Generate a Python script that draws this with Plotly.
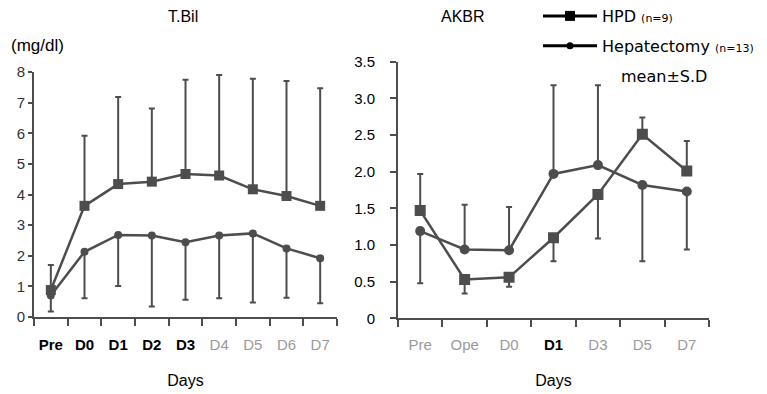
import plotly.graph_objects as go

# ---- data ----
tbil_days = ["Pre", "D0", "D1", "D2", "D3", "D4", "D5", "D6", "D7"]
tbil_hpd = [0.88, 3.63, 4.34, 4.42, 4.67, 4.62, 4.17, 3.95, 3.63]
tbil_hpd_up = [0.82, 2.29, 2.84, 2.39, 3.08, 3.28, 3.61, 3.76, 3.84]
tbil_hep = [0.7, 2.13, 2.68, 2.66, 2.44, 2.66, 2.73, 2.24, 1.92]
tbil_hep_down = [0.52, 1.52, 1.67, 2.32, 1.88, 2.05, 2.26, 1.61, 1.47]

akbr_days = ["Pre", "Ope", "D0", "D1", "D3", "D5", "D7"]
akbr_hpd = [1.47, 0.53, 0.56, 1.1, 1.69, 2.51, 2.01]
akbr_hpd_up = [0.5, 0, 0, 0, 0, 0.23, 0.41]
akbr_hpd_down = [0, 0.19, 0.13, 0.32, 0.6, 0, 0]
akbr_hep = [1.19, 0.94, 0.93, 1.97, 2.09, 1.82, 1.73]
akbr_hep_up = [0, 0.61, 0.59, 1.21, 1.09, 0, 0]
akbr_hep_down = [0.71, 0, 0, 0, 0, 1.04, 0.79]

tbil_yticks = [0, 1, 2, 3, 4, 5, 6, 7, 8]
akbr_yticks = [0, 0.5, 1.0, 1.5, 2.0, 2.5, 3.0, 3.5]
akbr_yticktext = ["0", "0.5", "1.0", "1.5", "2.0", "2.5", "3.0", "3.5"]

tbil_xtick_text = ["<b>Pre</b>", "<b>D0</b>", "<b>D1</b>", "<b>D2</b>", "<b>D3</b>",
                   "<span style='color:#9a9a9a'>D4</span>", "<span style='color:#9a9a9a'>D5</span>",
                   "<span style='color:#9a9a9a'>D6</span>", "<span style='color:#9a9a9a'>D7</span>"]
akbr_xtick_text = ["<span style='color:#9a9a9a'>Pre</span>", "<span style='color:#9a9a9a'>Ope</span>",
                   "<span style='color:#9a9a9a'>D0</span>", "<b>D1</b>",
                   "<span style='color:#9a9a9a'>D3</span>", "<span style='color:#9a9a9a'>D5</span>",
                   "<span style='color:#9a9a9a'>D7</span>"]

LC = "#4d4d4d"
FONT = "Liberation Sans, Arial, sans-serif"
WFONT = "DejaVu Sans, Verdana, sans-serif"

fig = go.Figure()

def err(up, down):
    return dict(type="data", symmetric=False, array=up, arrayminus=down,
                color=LC, thickness=2, width=3)

# T.Bil
fig.add_trace(go.Scatter(x=tbil_days, y=tbil_hpd, mode="lines+markers",
                         line=dict(color=LC, width=2.5),
                         marker=dict(symbol="square", size=10, color=LC),
                         error_y=err(tbil_hpd_up, [0]*9),
                         xaxis="x", yaxis="y", showlegend=False))
fig.add_trace(go.Scatter(x=tbil_days, y=tbil_hep, mode="lines+markers",
                         line=dict(color=LC, width=2.5),
                         marker=dict(symbol="circle", size=8, color=LC),
                         error_y=err([0]*9, tbil_hep_down),
                         xaxis="x", yaxis="y", showlegend=False))
# AKBR
fig.add_trace(go.Scatter(x=akbr_days, y=akbr_hpd, mode="lines+markers",
                         line=dict(color=LC, width=2.5),
                         marker=dict(symbol="square", size=11, color=LC),
                         error_y=err(akbr_hpd_up, akbr_hpd_down),
                         xaxis="x2", yaxis="y2", showlegend=False))
fig.add_trace(go.Scatter(x=akbr_days, y=akbr_hep, mode="lines+markers",
                         line=dict(color=LC, width=2.5),
                         marker=dict(symbol="circle", size=10, color=LC),
                         error_y=err(akbr_hep_up, akbr_hep_down),
                         xaxis="x2", yaxis="y2", showlegend=False))

# legend entries
fig.add_trace(go.Scatter(x=[None], y=[None], mode="lines+markers",
                         name="HPD <span style='font-size:11px'>(n=9)</span>",
                         legendgroup="a",
                         line=dict(color="black", width=3),
                         marker=dict(symbol="square", size=10, color="black"),
                         xaxis="x2", yaxis="y2"))
fig.add_trace(go.Scatter(x=[None], y=[None], mode="lines+markers",
                         name="Hepatectomy <span style='font-size:11px'>(n=13)</span>",
                         legendgroup="b",
                         line=dict(color="black", width=3),
                         marker=dict(symbol="circle", size=7, color="black"),
                         xaxis="x2", yaxis="y2"))

# page body has an 8px margin: map screenshot pixels into figure coordinates
OFF = 8
W, H = 767 - OFF, 394 - OFF
def px(v): return (v - OFF) / W
def py(v): return 1 - (v - OFF) / H

axis_common = dict(showgrid=False, zeroline=False, showline=True, linecolor=LC,
                   linewidth=2, ticks="outside", tickcolor=LC, tickwidth=2,
                   automargin=False, tickangle=0,
                   tickfont=dict(family=FONT, size=15, color="black"))

fig.update_layout(
    width=W, height=H,
    margin=dict(l=0, r=0, t=0, b=0, pad=0, autoexpand=False),
    paper_bgcolor="white", plot_bgcolor="white",
    font=dict(family=FONT, color="black"),
    xaxis=dict(domain=[px(34), px(337)], anchor="y", type="category",
               categoryorder="array", categoryarray=tbil_days,
               range=[-0.5, 8.5], tickmode="array", tickvals=tbil_days,
               ticktext=tbil_xtick_text, tickson="boundaries", ticklen=7,
               ticklabelstandoff=13,
               title=dict(text="Days", font=dict(family=FONT, size=16), standoff=23),
               **axis_common),
    yaxis=dict(domain=[py(317), py(72)], anchor="x", range=[0, 8],
               tickvals=tbil_yticks, ticklen=4,
               **{**axis_common, "tickfont": dict(family=FONT, size=15, color="#333")}),
    xaxis2=dict(domain=[px(398), px(709)], anchor="y2", type="category",
                categoryorder="array", categoryarray=akbr_days,
                range=[-0.5, 6.5], tickmode="array", tickvals=akbr_days,
                ticktext=akbr_xtick_text, tickson="boundaries", ticklen=7,
                ticklabelstandoff=12,
                title=dict(text="Days", font=dict(family=FONT, size=16), standoff=22),
                **axis_common),
    yaxis2=dict(domain=[py(318.4), py(61.7)], anchor="x2", range=[0, 3.5],
                tickvals=akbr_yticks, ticktext=akbr_yticktext, ticklen=6,
                ticklabelstandoff=12,
                **axis_common),
    legend=dict(x=px(538), y=py(-1), xanchor="left", yanchor="top",
                bgcolor="rgba(0,0,0,0)", font=dict(family=WFONT, size=16, color="black"),
                traceorder="grouped", tracegroupgap=6, itemwidth=54),
    annotations=[
        dict(text="T.Bil", x=px(183), y=py(17), xref="paper", yref="paper",
             xanchor="center", yanchor="middle",
             showarrow=False, font=dict(family=FONT, size=16)),
        dict(text="(mg/dl)", x=px(9), y=py(45), xref="paper", yref="paper",
             xanchor="left", yanchor="middle", showarrow=False, font=dict(family=FONT, size=17)),
        dict(text="AKBR", x=px(463), y=py(17), xref="paper", yref="paper",
             xanchor="center", yanchor="middle",
             showarrow=False, font=dict(family=FONT, size=16)),
        dict(text="mean±S.D", x=px(664), y=py(77), xref="paper", yref="paper",
             xanchor="center", yanchor="middle",
             showarrow=False, font=dict(family=WFONT, size=16)),
    ],
)

fig.write_html("out.html")
